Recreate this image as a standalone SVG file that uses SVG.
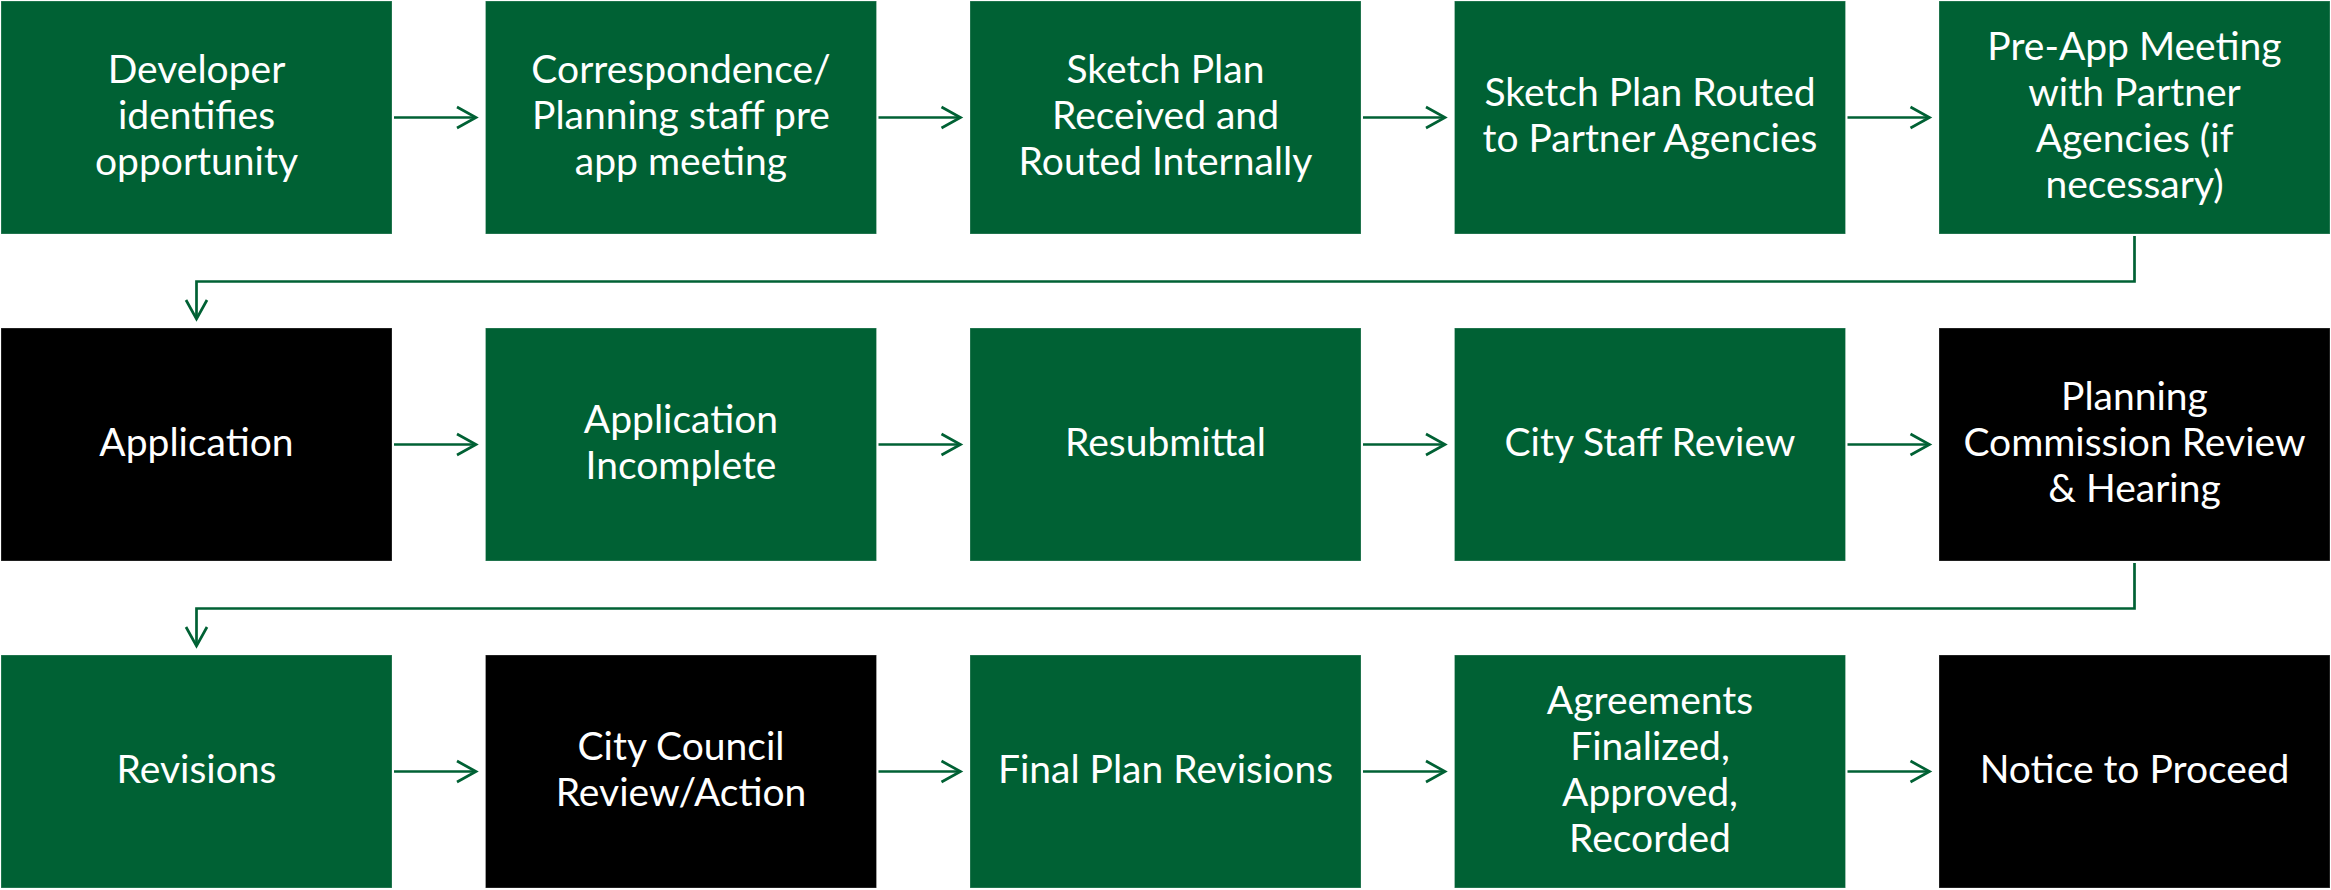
<svg xmlns="http://www.w3.org/2000/svg" width="2331" height="890" viewBox="0 0 2331 890">
  <style>
    .box { stroke: #ffffff; stroke-opacity: 0.25; stroke-width: 1; }
    .g { fill: #006134; }
    .k { fill: #000000; }
    .lbl { font-family: Lato, "Open Sans", "Liberation Sans", sans-serif; font-size: 39px; fill: #ffffff; text-anchor: middle; }
    .conn { fill: none; stroke: #006134; stroke-width: 2.7; }
  </style>
  <defs>
    <marker id="arrow" markerUnits="userSpaceOnUse" markerWidth="24" markerHeight="26" refX="19" refY="10.5" orient="auto" overflow="visible">
      <path d="M0,0 L19,10.5 L0,21" fill="none" stroke="#006134" stroke-width="2.7"/>
    </marker>
  </defs>
  <rect width="2331" height="890" fill="#ffffff"/>

  <!-- row 1 -->
  <g id="n-developer">
    <rect class="box g" x="1" y="1" width="391" height="233"/>
    <text class="lbl"><tspan x="196.5" y="83">Developer</tspan><tspan x="196.5" y="129">identifies</tspan><tspan x="196.5" y="175">opportunity</tspan></text>
  </g>
  <g id="n-correspondence">
    <rect class="box g" x="485.5" y="1" width="391" height="233"/>
    <text class="lbl"><tspan x="681" y="83">Correspondence/</tspan><tspan x="681" y="129">Planning staff pre</tspan><tspan x="681" y="175">app meeting</tspan></text>
  </g>
  <g id="n-sketch-received">
    <rect class="box g" x="970" y="1" width="391" height="233"/>
    <text class="lbl"><tspan x="1165.5" y="83">Sketch Plan</tspan><tspan x="1165.5" y="129">Received and</tspan><tspan x="1165.5" y="175">Routed Internally</tspan></text>
  </g>
  <g id="n-sketch-routed">
    <rect class="box g" x="1454.5" y="1" width="391" height="233"/>
    <text class="lbl"><tspan x="1650" y="106">Sketch Plan Routed</tspan><tspan x="1650" y="152">to Partner Agencies</tspan></text>
  </g>
  <g id="n-preapp">
    <rect class="box g" x="1939" y="1" width="391" height="233"/>
    <text class="lbl"><tspan x="2134.5" y="60">Pre-App Meeting</tspan><tspan x="2134.5" y="106">with Partner</tspan><tspan x="2134.5" y="152">Agencies (if</tspan><tspan x="2134.5" y="198">necessary)</tspan></text>
  </g>

  <!-- row 2 -->
  <g id="n-application">
    <rect class="box k" x="1" y="328" width="391" height="233"/>
    <text class="lbl"><tspan x="196.5" y="456">Application</tspan></text>
  </g>
  <g id="n-incomplete">
    <rect class="box g" x="485.5" y="328" width="391" height="233"/>
    <text class="lbl"><tspan x="681" y="433">Application</tspan><tspan x="681" y="479">Incomplete</tspan></text>
  </g>
  <g id="n-resubmittal">
    <rect class="box g" x="970" y="328" width="391" height="233"/>
    <text class="lbl"><tspan x="1165.5" y="456">Resubmittal</tspan></text>
  </g>
  <g id="n-staff-review">
    <rect class="box g" x="1454.5" y="328" width="391" height="233"/>
    <text class="lbl"><tspan x="1650" y="456">City Staff Review</tspan></text>
  </g>
  <g id="n-commission">
    <rect class="box k" x="1939" y="328" width="391" height="233"/>
    <text class="lbl"><tspan x="2134.5" y="410">Planning</tspan><tspan x="2134.5" y="456">Commission Review</tspan><tspan x="2134.5" y="502">&amp; Hearing</tspan></text>
  </g>

  <!-- row 3 -->
  <g id="n-revisions">
    <rect class="box g" x="1" y="655" width="391" height="233"/>
    <text class="lbl"><tspan x="196.5" y="783">Revisions</tspan></text>
  </g>
  <g id="n-council">
    <rect class="box k" x="485.5" y="655" width="391" height="233"/>
    <text class="lbl"><tspan x="681" y="760">City Council</tspan><tspan x="681" y="806">Review/Action</tspan></text>
  </g>
  <g id="n-final-revisions">
    <rect class="box g" x="970" y="655" width="391" height="233"/>
    <text class="lbl"><tspan x="1165.5" y="783">Final Plan Revisions</tspan></text>
  </g>
  <g id="n-agreements">
    <rect class="box g" x="1454.5" y="655" width="391" height="233"/>
    <text class="lbl"><tspan x="1650" y="714">Agreements</tspan><tspan x="1650" y="760">Finalized,</tspan><tspan x="1650" y="806">Approved,</tspan><tspan x="1650" y="852">Recorded</tspan></text>
  </g>
  <g id="n-notice">
    <rect class="box k" x="1939" y="655" width="391" height="233"/>
    <text class="lbl"><tspan x="2134.5" y="783">Notice to Proceed</tspan></text>
  </g>

  <!-- connectors -->
  <g id="connectors" class="conn">
    <line x1="394" y1="117.5" x2="476" y2="117.5" marker-end="url(#arrow)"/>
    <line x1="878.5" y1="117.5" x2="960.5" y2="117.5" marker-end="url(#arrow)"/>
    <line x1="1363" y1="117.5" x2="1445" y2="117.5" marker-end="url(#arrow)"/>
    <line x1="1847.5" y1="117.5" x2="1929.5" y2="117.5" marker-end="url(#arrow)"/>
    <polyline points="2134.5,236 2134.5,281.5 196.5,281.5 196.5,319" marker-end="url(#arrow)"/>

    <line x1="394" y1="444.5" x2="476" y2="444.5" marker-end="url(#arrow)"/>
    <line x1="878.5" y1="444.5" x2="960.5" y2="444.5" marker-end="url(#arrow)"/>
    <line x1="1363" y1="444.5" x2="1445" y2="444.5" marker-end="url(#arrow)"/>
    <line x1="1847.5" y1="444.5" x2="1929.5" y2="444.5" marker-end="url(#arrow)"/>
    <polyline points="2134.5,563 2134.5,608.5 196.5,608.5 196.5,646" marker-end="url(#arrow)"/>

    <line x1="394" y1="771.5" x2="476" y2="771.5" marker-end="url(#arrow)"/>
    <line x1="878.5" y1="771.5" x2="960.5" y2="771.5" marker-end="url(#arrow)"/>
    <line x1="1363" y1="771.5" x2="1445" y2="771.5" marker-end="url(#arrow)"/>
    <line x1="1847.5" y1="771.5" x2="1929.5" y2="771.5" marker-end="url(#arrow)"/>
  </g>
</svg>
